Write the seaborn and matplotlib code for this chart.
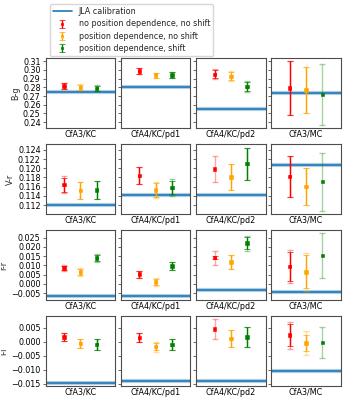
import matplotlib
matplotlib.use("Agg")
import matplotlib.pyplot as plt
import numpy as np
import pandas as pd
import seaborn as sns
from matplotlib.ticker import MultipleLocator


# --------------------------------------------------
# data
# --------------------------------------------------
surveys = ['CfA3/KC', 'CfA4/KC/pd1', 'CfA4/KC/pd2', 'CfA3/MC']
colours = ['B-g', 'V-r', 'r-r', 'i-i']
series = ['no position dependence, no shift', 'position dependence, no shift', 'position dependence, shift']
series_cols = ['red', 'orange', 'green']

# one list per colour row, one value per survey
no_pos_val = [[0.2816, 0.2988, 0.2950, 0.2793],
              [0.1164, 0.1184, 0.1198, 0.1182],
              [0.0085, 0.0053, 0.0142, 0.0094],
              [0.0016, 0.0014, 0.0045, 0.0023]]
pos_val = [[0.2800, 0.2940, 0.2928, 0.2770],
           [0.1152, 0.1153, 0.1181, 0.1160],
           [0.0065, 0.0010, 0.0117, 0.0065],
           [-0.0006, -0.0018, 0.0011, -0.0005]]
pos_shift_val = [[0.2790, 0.2942, 0.2808, 0.2720],
                 [0.1153, 0.1158, 0.1210, 0.1171],
                 [0.0140, 0.0096, 0.0220, 0.0153],
                 [-0.0010, -0.0011, 0.0016, -0.0004]]

# total errors (faded part)
no_pos_err = [[0.0038, 0.0032, 0.0057, 0.031],
              [0.0018, 0.0018, 0.0028, 0.0045],
              [0.0018, 0.0019, 0.0038, 0.0090],
              [0.0015, 0.0016, 0.0034, 0.0048]]
pos_err = [[0.0035, 0.0030, 0.0055, 0.026],
           [0.0018, 0.0018, 0.0028, 0.0040],
           [0.0022, 0.0019, 0.0038, 0.0102],
           [0.0017, 0.0018, 0.0030, 0.0042]]
pos_shift_err = [[0.0035, 0.0030, 0.0060, 0.035],
                 [0.0020, 0.0018, 0.0035, 0.0063],
                 [0.0023, 0.0022, 0.0041, 0.0120],
                 [0.0021, 0.0020, 0.0036, 0.0055]]

# statistical errors (solid part)
no_pos_stat = [[0.0033, 0.0032, 0.0045, 0.031],
               [0.0015, 0.0018, 0.0000, 0.0045],
               [0.0012, 0.0019, 0.0010, 0.0080],
               [0.0015, 0.0016, 0.0000, 0.0040]]
pos_stat = [[0.0030, 0.0030, 0.0045, 0.026],
            [0.0018, 0.0015, 0.0028, 0.0040],
            [0.0016, 0.0014, 0.0038, 0.0090],
            [0.0017, 0.0012, 0.0030, 0.0030]]
pos_shift_stat = [[0.0030, 0.0030, 0.0050, 0.0000],
                  [0.0020, 0.0015, 0.0035, 0.0000],
                  [0.0018, 0.0022, 0.0033, 0.0000],
                  [0.0021, 0.0020, 0.0036, 0.0000]]

jla = [[0.2747, 0.2800, 0.2555, 0.2735],
       [0.1121, 0.1142, 0.1142, 0.1207],
       [-0.0068, -0.0066, -0.0035, -0.0045],
       [-0.0149, -0.0139, -0.0139, -0.0104]]

ylims = [(0.2337, 0.3134), (0.1101, 0.1252), (-0.0086, 0.0289), (-0.0158, 0.0090)]
ystep = [0.01, 0.002, 0.005, 0.005]

# --------------------------------------------------
# long table for seaborn
# --------------------------------------------------
rows = []
for s_i, (vals, errs, stats) in enumerate([(no_pos_val, no_pos_err, no_pos_stat),
                                           (pos_val, pos_err, pos_stat),
                                           (pos_shift_val, pos_shift_err, pos_shift_stat)]):
    for r_i, col in enumerate(colours):
        for c_i, sv in enumerate(surveys):
            rows.append({'colour': col, 'survey': sv, 'series': series[s_i], 'x': s_i - 1,
                         'value': vals[r_i][c_i], 'err': errs[r_i][c_i], 'stat': stats[r_i][c_i]})
df = pd.DataFrame(rows)

sns.set_style('ticks')
plt.rcParams['font.family'] = ['DejaVu Sans']
plt.rcParams['axes.edgecolor'] = '0.3'
plt.rcParams['xtick.color'] = '0.3'
plt.rcParams['ytick.color'] = '0.3'
plt.rcParams['xtick.labelcolor'] = 'black'
plt.rcParams['ytick.labelcolor'] = 'black'
fs = 5.8

fig, axes = plt.subplots(4, 4, figsize=(3.45, 3.99), dpi=100, sharey='row')
fig.subplots_adjust(left=0.132, right=0.988, top=0.854, bottom=0.033, wspace=0.083, hspace=0.239)

palette = dict(zip(series, series_cols))
handles = {}
for r_i, col in enumerate(colours):
    for c_i, sv in enumerate(surveys):
        ax = axes[r_i, c_i]
        sub = df[(df['colour'] == col) & (df['survey'] == sv)]
        ax.axhline(jla[r_i][c_i], color='#1f77b4', lw=3, alpha=0.35, zorder=1)
        h_line = ax.axhline(jla[r_i][c_i], color='#1f77b4', lw=1.2, zorder=2, label='JLA calibration')
        handles['JLA calibration'] = h_line
        for _, row in sub.iterrows():
            c = palette[row['series']]
            ax.errorbar(row['x'], row['value'], yerr=row['err'], fmt='none', ecolor=c,
                        alpha=0.35, elinewidth=1, capsize=2, capthick=1, zorder=3)
            if row['stat'] > 0:
                eb = ax.errorbar(row['x'], row['value'], yerr=row['stat'], fmt='s', color=c, ms=1.8,
                                 mew=0.5, elinewidth=1, capsize=2, capthick=1, zorder=4)
                handles.setdefault(row['series'], eb)
        sns.scatterplot(data=sub, x='x', y='value', hue='series', palette=palette, marker='s',
                        s=6, linewidth=0.4, edgecolor='face', legend=False, ax=ax, zorder=5)
        ax.set_xlim(-2.13, 2.13)
        ax.set_ylim(*ylims[r_i])
        ax.yaxis.set_major_locator(MultipleLocator(ystep[r_i]))
        ax.set_xticks([0])
        ax.set_xticklabels([sv], fontsize=fs)
        ax.tick_params(axis='x', length=0, pad=1.5)
        ax.tick_params(axis='y', length=2, width=0.6, labelsize=fs, pad=1.5)
        ax.set_xlabel('')
        ax.set_ylabel(col if c_i == 0 else '', fontsize=fs, labelpad=2)
        for sp in ax.spines.values():
            sp.set_linewidth(0.8)
            sp.set_edgecolor('0.3')

leg_order = ['JLA calibration'] + series
fig.legend([handles[k] for k in leg_order], leg_order, loc='upper left',
           bbox_to_anchor=(0.132, 1.0), fontsize=fs, frameon=True, handlelength=2.4,
           borderpad=0.4, labelspacing=0.4, handletextpad=0.8)

plt.savefig('out.png', dpi=100)
plt.close()
